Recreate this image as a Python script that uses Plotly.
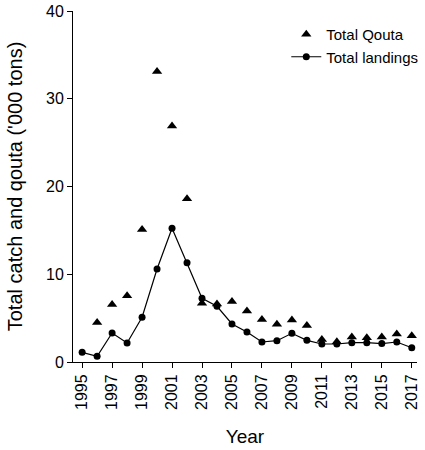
import plotly.graph_objects as go

years = list(range(1995, 2018))
landings = [1.1, 0.65, 3.3, 2.17, 5.1, 10.6, 15.25, 11.3, 7.26, 6.35, 4.33, 3.42, 2.28, 2.43,
            3.27, 2.47, 2.05, 2.05, 2.2, 2.2, 2.1, 2.28, 1.63]
quota = [None, 4.5, 6.55, 7.55, 15.1, 33.1, 26.9, 18.6, 6.7, 6.6, 6.9, 5.8, 4.85, 4.3,
         4.8, 4.15, 2.55, 2.3, 2.85, 2.75, 2.85, 3.2, 3.0]
tick_years = list(range(1995, 2018, 2))

font_family = "Liberation Sans, Arial, sans-serif"

fig = go.Figure()
fig.add_trace(go.Scatter(
    x=years, y=quota, mode="markers", name="Total Qouta",
    marker=dict(symbol="triangle-up", size=9, color="black"),
    cliponaxis=False,
))
fig.add_trace(go.Scatter(
    x=years, y=landings, mode="lines+markers", name="Total landings",
    line=dict(color="black", width=1.2),
    marker=dict(symbol="circle", size=7, color="black"),
    cliponaxis=False,
))

fig.update_layout(
    width=425, height=450,
    margin=dict(l=73, r=2, t=11, b=88),
    plot_bgcolor="white", paper_bgcolor="white",
    font=dict(family=font_family, color="black", size=15),
    showlegend=True,
    legend=dict(x=0.62, y=0.98, xanchor="left", yanchor="top",
                bgcolor="rgba(0,0,0,0)", font=dict(size=15, color="black"),
                tracegroupgap=0, itemwidth=30),
    xaxis=dict(
        range=[1994.39, 2017.35], tickmode="array", tickvals=tick_years,
        ticktext=[str(y) for y in tick_years], tickangle=-90,
        showline=True, linecolor="black", linewidth=1,
        ticks="outside", ticklen=5, tickcolor="black",
        showgrid=False, zeroline=False,
        title=dict(text="Year", font=dict(size=19, color="black"), standoff=20),
        tickfont=dict(size=16, color="black"),
    ),
    yaxis=dict(
        range=[0, 40], tickvals=[0, 10, 20, 30, 40],
        showline=True, linecolor="black", linewidth=1,
        ticks="outside", ticklen=5, tickcolor="black",
        showgrid=False, zeroline=False,
        title=dict(text="Total catch and qouta ('000 tons)", font=dict(size=20, color="black"), standoff=18),
        tickfont=dict(size=16, color="black"),
    ),
)

fig.write_html("out.html")
